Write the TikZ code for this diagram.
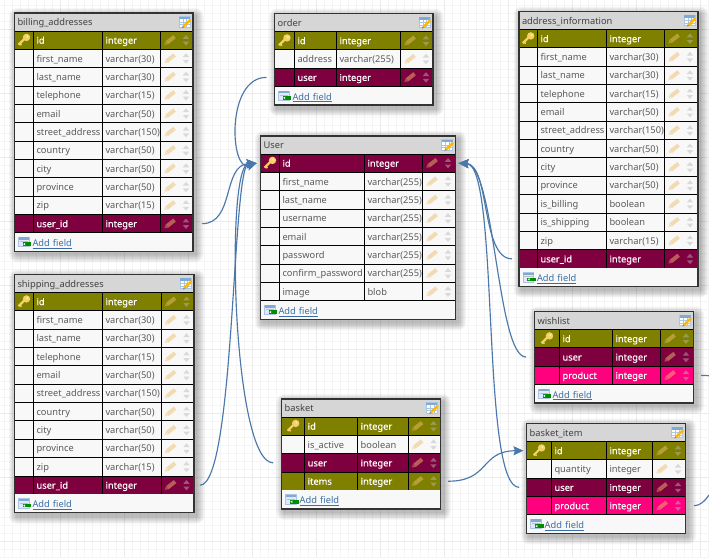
\documentclass[tikz,border=0pt]{standalone}
\usepackage{fontspec}
\setmainfont{Noto Sans}
\newfontfamily\whitefont[FakeBold=0.25]{Noto Sans}
\usetikzlibrary{arrows.meta,calc}
\definecolor{olivec}{HTML}{808000}
\definecolor{maroonc}{HTML}{7F003F}
\definecolor{pinkc}{HTML}{FF007F}
\definecolor{paperc}{HTML}{F8F8F8}
\definecolor{titlec}{HTML}{D6D6D6}
\definecolor{linkc}{HTML}{3A6EA5}
\definecolor{greytext}{HTML}{5A5A5A}
\definecolor{connc}{HTML}{4A78AC}
\definecolor{goldc}{HTML}{F4D164}
\definecolor{penc}{HTML}{EDBE6C}
\definecolor{iconframe}{HTML}{A9C6E4}
\definecolor{iconhead}{HTML}{7FA9D6}
\tikzset{
  cell/.style={draw=black,line width=1pt,inner sep=0pt,inner xsep=3pt,outer sep=0pt,anchor=north west,
    minimum height=18.35pt,text height=8.2pt,text depth=1.2pt,font=\fontsize{9.3}{11}\selectfont},
  celln/.style={cell,fill=paperc,text=greytext},
  colored/.style={cell,text=white,font=\whitefont\fontsize{9.3}{11}\selectfont},
  cellk/.style={colored,fill=olivec},
  cello/.style={colored,fill=olivec},
  cellm/.style={colored,fill=maroonc},
  cellz/.style={colored,fill=maroonc},
  cellp/.style={colored,fill=pinkc},
  titlebar/.style={cell,fill=titlec,text=black!75,draw=none,minimum height=18pt},
  addbar/.style={cell,fill=paperc,text=linkc,draw=none,inner xsep=18pt,minimum height=18.5pt,text height=9pt,text depth=.6pt},
  framebox/.style={draw=black!80,line width=1.2pt,fill=none,inner sep=0pt,outer sep=0pt,anchor=north west},
  conn/.style={draw=connc,line width=1.15pt},
  connarrow/.style={conn,-{Stealth[length=10pt,width=9pt,inset=1.5pt]}},
  keyicon/.pic={
    \draw[goldc,line width=2.2pt] (1,-2) -- (-5.5,4.5);
    \draw[goldc,line width=1.5pt] (-4.5,3) -- (-2.5,5);
    \fill[goldc] (2.5,-2.8) circle (3.7);
    \fill[white,opacity=.6] (3.3,-3.6) circle (1.1);
  },
  pencilicon/.pic={
    \draw[penc,opacity=.5,line width=4pt] (-3,2.4) -- (4.6,-3.6);
    \fill[penc,opacity=.38] (-5.6,4.6) -- (-4.6,1) -- (-1.8,4) -- cycle;
  },
  updownicon/.pic={
    \fill[black!28,opacity=.48] (0,-5.2) -- (3.2,-1.4) -- (-3.2,-1.4) -- cycle;
    \fill[black!28,opacity=.48] (0,5.2) -- (3.2,1.4) -- (-3.2,1.4) -- cycle;
  },
  tableicon/.pic={
    \fill[white] (-6,-5.5) rectangle (5,5);
    \draw[iconframe,line width=.9pt] (-6,-5.5) rectangle (5,5);
    \fill[iconhead] (-6,-5.5) rectangle (5,-3);
    \draw[iconframe,line width=.4pt] (-2,-3) -- (-2,5) (1.5,-3) -- (1.5,5) (-6,0) -- (5,0) (-6,2.6) -- (5,2.6);
    \draw[orange!55!yellow,line width=2.6pt] (-1.5,4.4) -- (5.5,-2.2);
    \fill[black!45] (-3,6) -- (-2.4,3.8) -- (-0.8,5.4) -- cycle;
  },
  addicon/.pic={
    \fill[blue!10!white] (0,0) rectangle (10.5,9.5);
    \draw[iconframe,line width=.9pt] (0,0) rectangle (10.5,9.5);
    \fill[iconhead] (0,0) rectangle (10.5,2.2);
    \draw[black!25,line width=.4pt] (1,4) -- (9.5,4);
    \fill[green!55!black] (4,5) rectangle (12.8,8.6);
    \fill[white] (4.6,6.8) -- (6.6,5.6) -- (6.6,8) -- cycle;
  }
}
\newcommand{\keycellk}[2]{\pic at (#1,#2) {keyicon};}
\newcommand{\keycellz}[2]{\pic at (#1,#2) {keyicon};}
\newcommand{\keycelln}[2]{}
\newcommand{\keycellm}[2]{}
\newcommand{\keycellp}[2]{}
\newcommand{\keycello}[2]{}
% id, title, x0..x4, ytop, rows
\newcommand{\erdtable}[9]{
  \foreach \fname/\ftype/\fkind [count=\rc] in {#9} {\xdef\nrows{\rc}}
  \pgfmathsetmacro{\ybottom}{#8+18+\nrows*18.35+18.5}
  \pgfmathsetmacro{\cwa}{#4-#3}
  \pgfmathsetmacro{\cwb}{#5-#4}
  \pgfmathsetmacro{\cwc}{#6-#5}
  \pgfmathsetmacro{\cwd}{#7-#6}
  \pgfmathsetmacro{\cwall}{#7-#3}
  \pgfmathsetmacro{\xmid}{(#3+#4)/2}
  \foreach \s in {8,...,1}
    \fill[black,opacity=.035,rounded corners=\s pt] ({#3+2.5-\s},{#8+3-\s}) rectangle ({#7+2.5+\s},{\ybottom+3+\s});
  \node[titlebar,minimum width=\cwall pt,text width=\cwall pt-6pt] (#1-title) at (#3,#8) {#2};
  \pic at ({#7-8},{#8+9}) {tableicon};
  \foreach \fname/\ftype/\fkind [count=\ri] in {#9} {
    \pgfmathsetmacro{\yrow}{#8+18+(\ri-1)*18.35}
    \pgfmathsetmacro{\ymid}{\yrow+9.2}
    \node[cell\fkind,minimum width=\cwa pt] (#1-r\ri-key) at (#3,\yrow) {};
    \node[cell\fkind,minimum width=\cwb pt,text width=\cwb pt-6pt] (#1-r\ri-name) at (#4,\yrow) {\rlap{\fname}};
    \node[cell\fkind,minimum width=\cwc pt,text width=\cwc pt-6pt] (#1-r\ri-type) at (#5,\yrow) {\rlap{\ftype}};
    \node[cell\fkind,minimum width=\cwd pt] (#1-r\ri-tools) at (#6,\yrow) {};
    \csname keycell\fkind\endcsname{\xmid}{\ymid}
    \pic at ({#6+9.5},\ymid) {pencilicon};
    \pic at ({#6+25.5},\ymid) {updownicon};
  }
  \pgfmathsetmacro{\yadd}{#8+18+\nrows*18.35}
  \node[addbar,minimum width=\cwall pt,text width=\cwall pt-36pt] (#1-add) at (#3,\yadd) {\rlap{\underline{Add field}}};
  \pic at ({#3+4},{\yadd+4.5}) {addicon};
  \node[framebox,minimum width=\cwall pt,minimum height={\ybottom-#8}] (#1-box) at (#3,#8) {};
}
\begin{document}
\begin{tikzpicture}[x=1pt,y=-1pt]
\useasboundingbox (0,0) rectangle (709,557);
\fill[white] (0,0) rectangle (709,557);
\begin{scope}
\clip (0,0) rectangle (709,557);
\foreach \gx in {4,12,...,708} \draw[black!4,line width=.8pt] (\gx,0) -- (\gx,557);
\foreach \gy in {5,13,...,557} \draw[black!4,line width=.8pt] (0,\gy) -- (709,\gy);
\foreach \gx in {60,124,...,700} \draw[black!8,line width=.9pt] (\gx,0) -- (\gx,557);
\foreach \gy in {29,93,...,541} \draw[black!8,line width=.9pt] (0,\gy) -- (709,\gy);
\end{scope}

\erdtable{billing}{billing\_addresses}{14.5}{33.5}{102.5}{160.5}{193}{13}{id/integer/k,first\_name/varchar(30)/n,last\_name/varchar(30)/n,telephone/varchar(15)/n,email/varchar(50)/n,street\_address/varchar(150)/n,country/varchar(50)/n,city/varchar(50)/n,province/varchar(50)/n,zip/varchar(15)/n,user\_id/integer/m}
\erdtable{shipping}{shipping\_addresses}{14.5}{33.5}{102.5}{161}{194}{274.5}{id/integer/k,first\_name/varchar(30)/n,last\_name/varchar(30)/n,telephone/varchar(15)/n,email/varchar(50)/n,street\_address/varchar(150)/n,country/varchar(50)/n,city/varchar(50)/n,province/varchar(50)/n,zip/varchar(15)/n,user\_id/integer/m}
\erdtable{order}{order}{274.5}{294.5}{336.5}{400.5}{433}{13.5}{id/integer/k,address/varchar(255)/n,user/integer/m}
\erdtable{user}{User}{260.5}{279.5}{364.5}{422.5}{455.5}{136}{id/integer/z,first\_name/varchar(255)/n,last\_name/varchar(255)/n,username/varchar(255)/n,email/varchar(255)/n,password/varchar(255)/n,confirm\_password/varchar(255)/n,image/blob/n}
\erdtable{address}{address\_information}{519}{537.5}{606.5}{664.5}{698}{11.5}{id/integer/k,first\_name/varchar(30)/n,last\_name/varchar(30)/n,telephone/varchar(15)/n,email/varchar(50)/n,street\_address/varchar(150)/n,country/varchar(50)/n,city/varchar(50)/n,province/varchar(50)/n,is\_billing/boolean/n,is\_shipping/boolean/n,zip/varchar(15)/n,user\_id/integer/m}
\erdtable{wishlist}{wishlist}{534.5}{559.5}{612.5}{660.5}{693.5}{311.5}{id/integer/k,user/integer/m,product/integer/p}
\erdtable{basket}{basket}{281.7}{304.7}{357.7}{408}{440.3}{399}{id/integer/k,is\_active/boolean/n,user/integer/m,items/integer/o}
\erdtable{basketitem}{basket\_item}{526.7}{551.5}{606.5}{652.5}{685.5}{423.5}{id/integer/k,quantity/integer/n,user/integer/m,product/integer/p}

\coordinate (wishfree) at (709,375.7);
\coordinate (itemfree) at (709,495);

\draw[connarrow] ([xshift=9pt]billing-r11-tools.east) .. controls +(33,0) and (222,165) .. ([xshift=-3.8pt]user-r1-key.west);
\draw[connarrow] ([xshift=6pt]shipping-r11-tools.east) .. controls +(35,0) and (232,165) .. ([xshift=-3.8pt]user-r1-key.west);
\draw[connarrow] ([xshift=-8pt]order-r3-key.west) .. controls +(-41,0) and (230,172) .. ([xshift=-3.8pt]user-r1-key.west);
\draw[connarrow] ([xshift=-8.5pt]basket-r3-key.west) .. controls +(-41,0) and (225,165) .. ([xshift=-3.8pt]user-r1-key.west);
\draw[connarrow] ([xshift=-7pt]address-r13-key.west) .. controls +(-31,0) and (490,165) .. ([xshift=3pt]user-r1-tools.east);
\draw[connarrow] ([xshift=-8.5pt]wishlist-r2-key.west) .. controls +(-29,0) and (495,165) .. ([xshift=3pt]user-r1-tools.east);
\draw[connarrow] ([xshift=-7.5pt]basketitem-r3-key.west) .. controls +(-39,0) and (500,165) .. ([xshift=3pt]user-r1-tools.east);
\draw[connarrow] ([xshift=7.7pt]basket-r4-tools.east) .. controls +(42,0) and (480,451) .. ([xshift=-3.2pt]basketitem-r1-key.west);
\draw[conn] ([xshift=7.5pt]wishlist-r3-tools.east) -- (wishfree);
\draw[conn] ([xshift=8.5pt]basketitem-r4-tools.east) .. controls +(6,0) and (705,501) .. (itemfree);
\end{tikzpicture}
\end{document}
